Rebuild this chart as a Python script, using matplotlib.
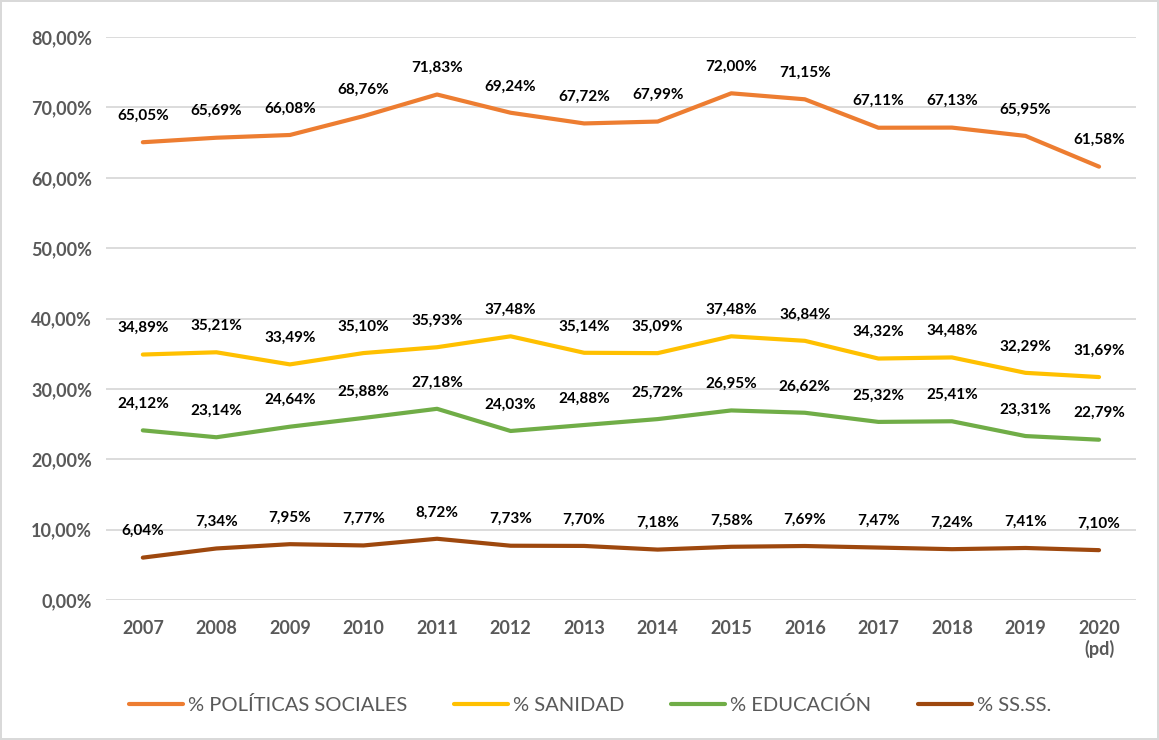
import numpy as np
import matplotlib
matplotlib.use('Agg')
import matplotlib.pyplot as plt
from matplotlib.ticker import FuncFormatter

plt.rcParams['font.family'] = ['Lato', 'DejaVu Sans']

# Datos
years = ['2007', '2008', '2009', '2010', '2011', '2012', '2013', '2014',
         '2015', '2016', '2017', '2018', '2019', '2020\n(pd)']
politicas = [65.05, 65.69, 66.08, 68.76, 71.83, 69.24, 67.72, 67.99, 72.00, 71.15, 67.11, 67.13, 65.95, 61.58]
sanidad = [34.89, 35.21, 33.49, 35.10, 35.93, 37.48, 35.14, 35.09, 37.48, 36.84, 34.32, 34.48, 32.29, 31.69]
educacion = [24.12, 23.14, 24.64, 25.88, 27.18, 24.03, 24.88, 25.72, 26.95, 26.62, 25.32, 25.41, 23.31, 22.79]
ssss = [6.04, 7.34, 7.95, 7.77, 8.72, 7.73, 7.70, 7.18, 7.58, 7.69, 7.47, 7.24, 7.41, 7.10]

series = [
    ('% POLÍTICAS SOCIALES', politicas, '#ED7D31'),
    ('% SANIDAD', sanidad, '#FFC000'),
    ('% EDUCACIÓN', educacion, '#70AD47'),
    ('% SS.SS.', ssss, '#9E480E'),
]

def pct(v):
    return f'{v:.2f}%'.replace('.', ',')

fig = plt.figure(figsize=(11.59, 7.40), dpi=100)
fig.patch.set_edgecolor('#d9d9d9')
fig.patch.set_linewidth(1.5)
ax = fig.add_axes([0.0915, 0.189, 0.8885, 0.761])

x = np.arange(len(years))
for name, vals, col in series:
    ax.plot(x, vals, color=col, lw=3, label=name, solid_capstyle='round')
    for xi, v in zip(x, vals):
        ax.annotate(pct(v), (xi, v), xytext=(0, 14), textcoords='offset points',
                    ha='center', va='bottom', fontsize=11, fontweight='bold',
                    color='black')

ax.set_xlim(-0.5, len(years) - 0.5)
ax.set_ylim(0, 80)
ax.set_yticks(np.arange(0, 81, 10))
ax.yaxis.set_major_formatter(FuncFormatter(lambda v, p: pct(v)))
ax.set_xticks(x)
ax.set_xticklabels(years)
ax.tick_params(length=0, labelsize=13, labelcolor='#595959')
ax.tick_params(axis='x', pad=14)
ax.tick_params(axis='y', pad=10)
for lab in ax.get_xticklabels() + ax.get_yticklabels():
    lab.set_fontweight('bold')
ax.yaxis.grid(True, color='#d9d9d9', lw=1.3)
ax.set_axisbelow(True)
for s in ax.spines.values():
    s.set_visible(False)

ax.legend(loc='center', bbox_to_anchor=(0.47, -0.1865), ncol=4, frameon=False,
          fontsize=14.5, labelcolor='#595959', handlelength=2.7, handletextpad=0.25,
          columnspacing=2.3)

plt.savefig('out.png', dpi=100)
